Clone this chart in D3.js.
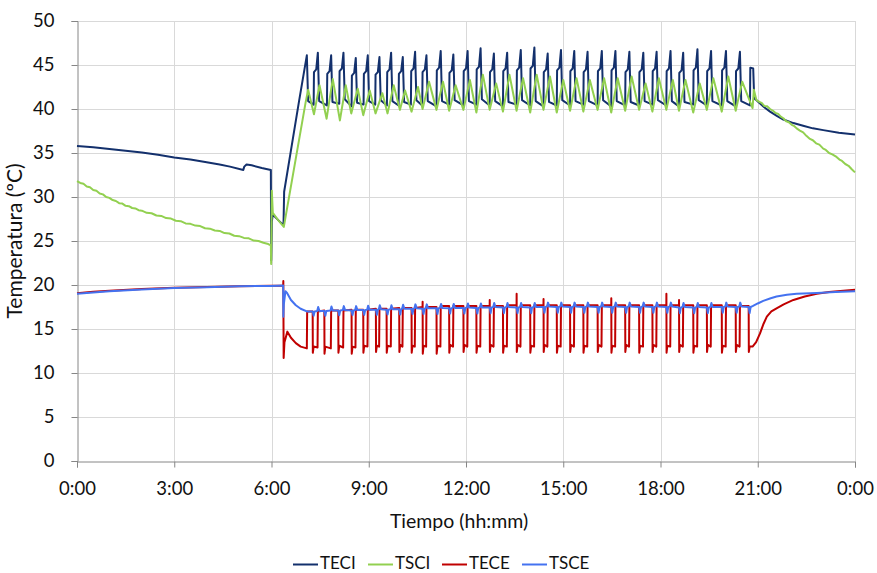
<!DOCTYPE html>
<html><head><meta charset="utf-8">
<script src="https://cdn.jsdelivr.net/npm/d3@7"></script>
<style>
body{margin:0;background:#fff}
svg{display:block}
text{font-family:Lato,"Open Sans",sans-serif;fill:#111}
</style>
</head><body>
<svg id="chart" width="877" height="573"></svg>
<script>
// ---------- data ----------
const xTickHours = [0,3,6,9,12,15,18,21,24];
const xTickLabels = ["0:00","3:00","6:00","9:00","12:00","15:00","18:00","21:00","0:00"];
const yTicks = [0,5,10,15,20,25,30,35,40,45,50];
const seriesNames = ["TECI","TSCI","TECE","TSCE"];
const seriesColors = ["#13306c","#92d050","#c00000","#4472f0"];
const xTitle = "Tiempo (hh:mm)";
const yTitle = "Temperatura (ºC)";

// [hour, ºC]
const teci = [
[0,35.8],[0.5,35.65],[1,35.45],[1.5,35.25],[2,35.05],[2.5,34.8],[3,34.5],[3.5,34.25],[4,33.95],[4.4,33.7],[4.72,33.45],[5.13,33.07],[5.16,33.45],[5.23,33.7],[5.39,33.6],[5.7,33.3],[5.98,33.07],
[5.99,22.8],[6.01,27.2],[6.04,28.0],[6.2,27.4],[6.37,26.8],[6.39,30.6],[6.6,35.3],[6.85,40.9],[7.09,46.1],[7.13,40.9],
[7.30,40.5],[7.31,44.2],[7.38,44.5],[7.43,46.4],[7.47,40.9],
[7.71,40.4],[7.72,44.0],[7.79,44.3],[7.84,46.1],[7.88,40.8],
[8.09,40.6],[8.10,44.3],[8.17,44.6],[8.22,46.4],[8.26,41.1],
[8.47,40.3],[8.48,43.8],[8.55,44.1],[8.60,45.8],[8.64,40.7],
[8.84,40.5],[8.85,44.0],[8.92,44.3],[8.97,46.1],[9.01,40.9],
[9.20,40.5],[9.21,43.9],[9.28,44.2],[9.33,45.9],[9.37,41.0],
[9.56,40.4],[9.57,44.2],[9.64,44.5],[9.69,46.4],[9.73,40.9],
[9.92,40.4],[9.93,44.0],[10.00,44.3],[10.05,45.9],[10.09,40.8],
[10.30,40.5],[10.31,44.3],[10.38,44.6],[10.43,46.5],[10.47,41.0],
[10.65,40.4],[10.66,44.2],[10.73,44.5],[10.78,46.1],[10.82,40.9],
[11.09,40.3],[11.10,44.4],[11.17,44.7],[11.22,46.6],[11.26,40.9],
[11.48,40.5],[11.49,44.1],[11.56,44.4],[11.61,46.2],[11.65,41.0],
[11.92,40.4],[11.93,44.3],[12.00,44.6],[12.05,46.6],[12.09,40.9],
[12.32,40.5],[12.33,44.5],[12.40,44.8],[12.45,46.9],[12.49,41.1],
[12.73,40.4],[12.74,44.2],[12.81,44.5],[12.86,46.3],[12.90,40.9],
[13.14,40.3],[13.15,44.3],[13.22,44.6],[13.27,46.4],[13.31,40.8],
[13.56,40.5],[13.57,44.4],[13.64,44.7],[13.69,46.7],[13.73,41.0],
[13.98,40.4],[13.99,44.6],[14.06,44.9],[14.11,47.0],[14.15,40.9],
[14.39,40.3],[14.40,44.2],[14.47,44.5],[14.52,46.3],[14.56,40.8],
[14.80,40.4],[14.81,44.4],[14.88,44.7],[14.93,46.7],[14.97,41.0],
[15.21,40.4],[15.22,44.3],[15.29,44.6],[15.34,46.6],[15.38,40.9],
[15.62,40.5],[15.63,44.2],[15.70,44.5],[15.75,46.5],[15.79,40.9],
[16.06,40.4],[16.07,44.3],[16.14,44.6],[16.19,46.6],[16.23,41.0],
[16.48,40.3],[16.49,44.4],[16.56,44.7],[16.61,46.6],[16.65,40.9],
[16.91,40.4],[16.92,44.2],[16.99,44.5],[17.04,46.5],[17.08,40.8],
[17.34,40.4],[17.35,44.2],[17.42,44.5],[17.47,46.4],[17.51,40.9],
[17.75,40.5],[17.76,44.3],[17.83,44.6],[17.88,46.5],[17.92,41.0],
[18.18,40.4],[18.19,44.3],[18.26,44.6],[18.31,46.6],[18.35,40.9],
[18.57,40.3],[18.58,44.1],[18.65,44.4],[18.70,46.4],[18.74,40.8],
[19.01,40.5],[19.02,44.4],[19.09,44.7],[19.14,46.8],[19.18,41.0],
[19.43,40.4],[19.44,44.3],[19.51,44.6],[19.56,46.6],[19.60,40.9],
[19.89,40.4],[19.90,44.4],[19.97,44.7],[20.02,46.6],[20.06,40.9],
[20.32,40.3],[20.33,44.3],[20.40,44.6],[20.45,46.5],[20.49,40.9],
[20.76,40.4],[20.77,44.7],[20.86,44.6],[20.89,41.2],
[20.96,41.0],[21.2,40.2],[21.38,39.7],[21.6,39.2],[21.79,38.8],[22.1,38.4],[22.4,38.1],[22.7,37.8],[23.02,37.6],[23.5,37.3],[24,37.1]
];

const tsci = [
[0,31.8],[0.1,31.6],[0.2,31.5],[0.3,31.2],[0.4,31.1],[0.5,30.8],[0.6,30.7],[0.7,30.4],[0.8,30.3],[0.9,30.0],[1.0,29.9],[1.1,29.65],[1.2,29.55],[1.3,29.3],[1.4,29.25],[1.5,29.0],[1.6,28.95],[1.7,28.75],[1.8,28.7],[1.9,28.5],[2.0,28.45],[2.15,28.2],[2.3,28.15],[2.45,27.9],[2.6,27.85],[2.75,27.6],[2.9,27.55],[3.05,27.3],[3.2,27.25],[3.35,27.0],[3.5,26.95],[3.65,26.75],[3.8,26.7],[3.95,26.45],[4.1,26.4],[4.25,26.2],[4.4,26.15],[4.55,25.9],[4.7,25.85],[4.85,25.6],[5.0,25.55],[5.15,25.35],[5.3,25.3],[5.45,25.05],[5.6,25.0],[5.75,24.8],[5.9,24.65],[5.98,24.5],
[5.99,22.4],[6.01,30.7],[6.04,28.2],[6.2,27.4],[6.38,26.6],[7.05,40.7],[7.13,42.2],
[7.31,39.4],[7.48,42.7],
[7.70,38.9],[7.89,43.4],
[8.11,38.7],[8.29,42.7],
[8.46,39.5],[8.66,42.3],
[8.83,39.3],[9.03,42.1],
[9.21,39.5],[9.42,41.8],
[9.58,39.5],[9.77,42.7],
[9.96,39.9],[10.12,42.1],
[10.32,39.7],[10.52,42.5],
[10.66,40.0],[10.86,43.1],
[11.09,39.9],[11.29,43.1],
[11.48,39.8],[11.68,42.7],
[11.92,39.9],[12.12,43.3],
[12.32,39.6],[12.52,43.9],
[12.73,39.9],[12.93,42.9],
[13.14,39.7],[13.34,43.9],
[13.56,39.8],[13.76,43.5],
[13.98,39.6],[14.18,43.9],
[14.39,39.9],[14.59,43.7],
[14.80,39.6],[15.00,43.3],
[15.21,39.8],[15.41,43.5],
[15.62,39.7],[15.82,43.3],
[16.06,39.9],[16.26,43.5],
[16.48,39.6],[16.68,43.5],
[16.91,39.8],[17.11,43.7],
[17.34,39.9],[17.54,42.9],
[17.75,39.7],[17.95,43.5],
[18.18,39.9],[18.38,43.3],
[18.57,39.8],[18.77,43.3],
[19.01,39.6],[19.21,42.9],
[19.43,39.9],[19.63,43.5],
[19.89,39.7],[20.09,43.7],
[20.32,39.8],[20.52,43.1],
[20.84,40.1],[20.88,42.2],[20.96,41.0],
[21.05,40.8],[21.12,40.7],[21.2,40.35],[21.29,40.3],[21.38,40.0],[21.47,39.8],[21.55,39.55],[21.63,39.45],[21.72,39.1],[21.79,38.95],[21.88,38.6],[21.96,38.5],[22.05,38.2],[22.13,38.05],[22.2,37.8],[22.3,37.55],[22.4,37.35],[22.5,36.95],[22.61,36.6],[22.7,36.45],[22.8,36.1],[22.9,35.95],[23.02,35.5],[23.1,35.35],[23.2,35.0],[23.3,34.85],[23.43,34.55],[23.52,34.25],[23.6,34.1],[23.7,33.75],[23.8,33.55],[23.9,33.15],[24,32.8]
];

const tece = [
[0,19.05],[0.5,19.22],[1,19.36],[2,19.55],[3,19.68],[4,19.78],[5,19.86],[6,19.92],[6.36,19.95],[6.365,20.45],[6.375,11.7],[6.40,13.5],[6.49,14.7],[6.6,14.0],[6.75,13.4],[6.9,13.0],[7.09,12.8],[7.10,17.0],
[7.27,17.0],[7.275,12.3],[7.30,13.0],[7.42,12.9],[7.43,17.0],
[7.63,17.1],[7.635,12.2],[7.66,13.0],[7.83,12.8],[7.84,17.1],
[8.06,17.1],[8.065,12.3],[8.09,13.1],[8.21,12.9],[8.22,17.1],
[8.47,17.2],[8.475,12.2],[8.50,13.0],[8.59,12.9],[8.60,17.2],
[8.83,17.2],[8.835,12.3],[8.86,13.1],[8.96,13.0],[8.97,17.2],
[9.22,17.3],[9.225,12.4],[9.25,13.1],[9.32,13.0],[9.33,17.3],
[9.55,17.3],[9.555,12.3],[9.58,13.1],[9.68,13.0],[9.69,17.3],
[9.94,17.4],[9.945,12.4],[9.97,13.2],[10.04,13.0],[10.05,17.4],
[10.32,17.4],[10.325,12.3],[10.35,13.1],[10.42,13.0],[10.43,17.4],
[10.66,17.5],[10.662,18.1],[10.667,12.2],[10.69,13.1],[10.77,13.0],[10.78,17.5],
[11.09,17.5],[11.095,12.2],[11.12,13.1],[11.21,13.0],[11.22,17.6],
[11.48,17.6],[11.485,12.3],[11.51,13.2],[11.60,13.0],[11.61,17.6],
[11.92,17.6],[11.925,12.4],[11.95,13.2],[12.04,13.0],[12.05,17.6],
[12.32,17.6],[12.325,12.3],[12.35,13.1],[12.44,13.0],[12.45,17.6],
[12.73,17.6],[12.732,18.3],[12.737,12.4],[12.76,13.2],[12.85,13.0],[12.86,17.6],
[13.14,17.6],[13.145,12.3],[13.17,13.1],[13.26,13.0],[13.27,17.7],
[13.56,17.7],[13.562,19.0],[13.567,12.4],[13.59,13.2],[13.68,13.0],[13.69,17.7],
[13.98,17.7],[13.985,12.3],[14.01,13.1],[14.10,13.0],[14.11,17.7],
[14.39,17.7],[14.392,18.4],[14.397,12.4],[14.42,13.2],[14.51,13.0],[14.52,17.7],
[14.80,17.7],[14.805,12.3],[14.83,13.1],[14.92,13.0],[14.93,17.7],
[15.21,17.7],[15.215,12.4],[15.24,13.2],[15.33,13.0],[15.34,17.7],
[15.62,17.7],[15.625,12.3],[15.65,13.1],[15.74,13.0],[15.75,17.7],
[16.06,17.7],[16.065,12.4],[16.09,13.2],[16.18,13.0],[16.19,17.7],
[16.48,17.7],[16.482,18.5],[16.487,12.3],[16.51,13.1],[16.60,13.0],[16.61,17.7],
[16.91,17.7],[16.915,12.4],[16.94,13.2],[17.03,13.0],[17.04,17.7],
[17.34,17.7],[17.345,12.3],[17.37,13.1],[17.46,13.0],[17.47,17.7],
[17.75,17.7],[17.755,12.4],[17.78,13.2],[17.87,13.0],[17.88,17.7],
[18.18,17.7],[18.182,19.0],[18.187,12.3],[18.21,13.1],[18.30,13.0],[18.31,17.7],
[18.57,17.7],[18.572,18.3],[18.577,12.4],[18.60,13.2],[18.69,13.0],[18.70,17.7],
[19.01,17.7],[19.015,12.3],[19.04,13.1],[19.13,13.0],[19.14,17.7],
[19.43,17.7],[19.435,12.4],[19.46,13.2],[19.55,13.0],[19.56,17.7],
[19.89,17.7],[19.895,12.3],[19.92,13.1],[20.01,13.0],[20.02,17.7],
[20.32,17.7],[20.325,12.4],[20.35,13.2],[20.44,13.0],[20.45,17.6],
[20.72,17.6],[20.725,12.4],[20.75,13.0],[20.84,13.0],[20.95,13.5],[21.07,14.5],[21.18,15.6],[21.28,16.4],[21.42,17.0],[21.58,17.35],[21.8,17.8],[22.1,18.3],[22.45,18.7],[22.82,19.0],[23.2,19.2],[23.64,19.35],[24,19.45]
];

const tsce = [
[0,19.0],[0.5,19.15],[1,19.3],[2,19.5],[3,19.65],[4,19.75],[5,19.85],[6,19.9],[6.36,19.95],[6.365,16.4],[6.38,17.8],[6.43,19.3],[6.48,19.1],[6.6,18.3],[6.75,17.7],[6.9,17.3],[7.09,17.0],
[7.27,17.0],[7.30,16.5],[7.33,17.0],[7.41,17.05],[7.44,17.5],[7.48,17.05],
[7.63,17.05],[7.66,16.5],[7.69,17.05],[7.82,17.1],[7.85,17.55],[7.89,17.1],
[8.06,17.1],[8.09,16.55],[8.12,17.1],[8.20,17.15],[8.23,17.6],[8.27,17.15],
[8.47,17.1],[8.50,16.6],[8.53,17.1],[8.58,17.15],[8.61,17.6],[8.65,17.15],
[8.83,17.15],[8.86,16.6],[8.89,17.15],[8.95,17.2],[8.98,17.65],[9.02,17.2],
[9.22,17.2],[9.25,16.6],[9.28,17.2],[9.31,17.25],[9.34,17.7],[9.38,17.25],
[9.55,17.2],[9.58,16.65],[9.61,17.2],[9.67,17.25],[9.70,17.7],[9.74,17.25],
[9.94,17.25],[9.97,16.65],[10.00,17.25],[10.03,17.3],[10.06,17.75],[10.10,17.3],
[10.32,17.3],[10.35,16.7],[10.38,17.3],[10.41,17.35],[10.44,17.8],[10.48,17.35],
[10.66,17.3],[10.69,16.7],[10.72,17.3],[10.76,17.35],[10.79,17.8],[10.83,17.35],
[11.09,17.35],[11.12,16.7],[11.15,17.35],[11.20,17.4],[11.23,17.85],[11.27,17.4],
[11.48,17.35],[11.51,16.75],[11.54,17.35],[11.59,17.4],[11.62,17.85],[11.66,17.4],
[11.92,17.4],[11.95,16.75],[11.98,17.4],[12.03,17.45],[12.06,17.9],[12.10,17.45],
[12.32,17.4],[12.35,16.75],[12.38,17.4],[12.43,17.45],[12.46,17.9],[12.50,17.45],
[12.73,17.45],[12.76,16.8],[12.79,17.45],[12.84,17.5],[12.87,17.95],[12.91,17.5],
[13.14,17.45],[13.17,16.8],[13.20,17.45],[13.25,17.5],[13.28,17.95],[13.32,17.5],
[13.56,17.45],[13.59,16.8],[13.62,17.45],[13.67,17.5],[13.70,17.95],[13.74,17.5],
[13.98,17.45],[14.01,16.8],[14.04,17.45],[14.09,17.5],[14.12,17.95],[14.16,17.5],
[14.39,17.5],[14.42,16.85],[14.45,17.5],[14.50,17.55],[14.53,18.0],[14.57,17.55],
[14.80,17.5],[14.83,16.85],[14.86,17.5],[14.91,17.55],[14.94,18.0],[14.98,17.55],
[15.21,17.5],[15.24,16.85],[15.27,17.5],[15.32,17.55],[15.35,18.0],[15.39,17.55],
[15.62,17.5],[15.65,16.85],[15.68,17.5],[15.73,17.55],[15.76,18.0],[15.80,17.55],
[16.06,17.5],[16.09,16.85],[16.12,17.5],[16.17,17.55],[16.20,18.0],[16.24,17.55],
[16.48,17.5],[16.51,16.85],[16.54,17.5],[16.59,17.55],[16.62,18.0],[16.66,17.55],
[16.91,17.5],[16.94,16.85],[16.97,17.5],[17.02,17.55],[17.05,18.0],[17.09,17.55],
[17.34,17.5],[17.37,16.85],[17.40,17.5],[17.45,17.55],[17.48,18.0],[17.52,17.55],
[17.75,17.5],[17.78,16.85],[17.81,17.5],[17.86,17.55],[17.89,18.0],[17.93,17.55],
[18.18,17.5],[18.21,16.85],[18.24,17.5],[18.29,17.55],[18.32,18.0],[18.36,17.55],
[18.57,17.45],[18.60,16.8],[18.63,17.45],[18.68,17.5],[18.71,17.95],[18.75,17.5],
[19.01,17.45],[19.04,16.8],[19.07,17.45],[19.12,17.5],[19.15,17.95],[19.19,17.5],
[19.43,17.45],[19.46,16.8],[19.49,17.45],[19.54,17.5],[19.57,17.95],[19.61,17.5],
[19.89,17.5],[19.92,16.85],[19.95,17.5],[20.00,17.55],[20.03,18.0],[20.07,17.55],
[20.32,17.5],[20.35,16.85],[20.38,17.5],[20.43,17.55],[20.46,18.0],[20.50,17.55],
[20.72,17.5],[20.75,16.8],[20.78,17.5],[20.84,17.6],[21.0,17.9],[21.17,18.2],[21.4,18.5],[21.58,18.7],[21.9,18.9],[22.2,19.0],[22.82,19.1],[23.4,19.2],[24,19.3]
];

const seriesData = [teci, tsci, tece, tsce];

// ---------- chart ----------
const svg = d3.select("#chart");
const m = {left:77, right:855, top:21, bottom:461};
const x = d3.scaleLinear().domain([0,24]).range([m.left, m.right]);
const y = d3.scaleLinear().domain([0,50]).range([m.bottom, m.top]);

// grid
svg.append("g").selectAll("line").data(yTicks.filter(d=>d>0)).join("line")
  .attr("x1", m.left).attr("x2", m.right)
  .attr("y1", d=>Math.round(y(d))+0.5).attr("y2", d=>Math.round(y(d))+0.5)
  .attr("stroke","#d9d9d9").attr("stroke-width",1);
svg.append("g").selectAll("line").data(xTickHours.filter(d=>d>0)).join("line")
  .attr("y1", m.top).attr("y2", m.bottom)
  .attr("x1", d=>Math.round(x(d))+0.5).attr("x2", d=>Math.round(x(d))+0.5)
  .attr("stroke","#d9d9d9").attr("stroke-width",1);

// axes
const yAxis = d3.axisLeft(y).tickValues(yTicks).tickSize(6).tickPadding(17).tickFormat(d3.format("d"));
const gy = svg.append("g").attr("transform",`translate(${m.left+0.5},0)`).call(yAxis);
const xAxis = d3.axisBottom(x).tickValues(xTickHours).tickSize(6).tickPadding(14)
  .tickFormat((d,i)=>xTickLabels[i]);
const gx = svg.append("g").attr("transform",`translate(0,${m.bottom+0.5})`).call(xAxis);
[gx,gy].forEach(g=>{
  g.select(".domain").attr("stroke","#868686");
  g.selectAll(".tick line").attr("stroke","#868686");
  g.selectAll(".tick text").attr("font-size",18.5).attr("fill","#111")
   .attr("font-family","Lato, 'Open Sans', sans-serif");
});

// lines
const line = d3.line().x(d=>x(d[0])).y(d=>y(d[1]));
seriesData.forEach((s,i)=>{
  svg.append("path").datum(s).attr("d",line)
    .attr("fill","none").attr("stroke",seriesColors[i])
    .attr("stroke-width",2).attr("stroke-linejoin","round");
});

// axis titles
svg.append("text").attr("x",459).attr("y",528)
  .attr("text-anchor","middle").attr("font-size",19.5).text(xTitle);
svg.append("text").attr("transform",`translate(22,${(m.top+m.bottom)/2}) rotate(-90)`)
  .attr("text-anchor","middle").attr("font-size",21).text(yTitle);

// legend
const legendX = [293,368,442,522];
const lg = svg.append("g");
seriesNames.forEach((n,i)=>{
  lg.append("line").attr("x1",legendX[i]).attr("x2",legendX[i]+25)
    .attr("y1",564.5).attr("y2",564.5).attr("stroke",seriesColors[i]).attr("stroke-width",2);
  lg.append("text").attr("x",legendX[i]+27).attr("y",569).attr("font-size",17).text(n);
});
</script>
</body></html>
